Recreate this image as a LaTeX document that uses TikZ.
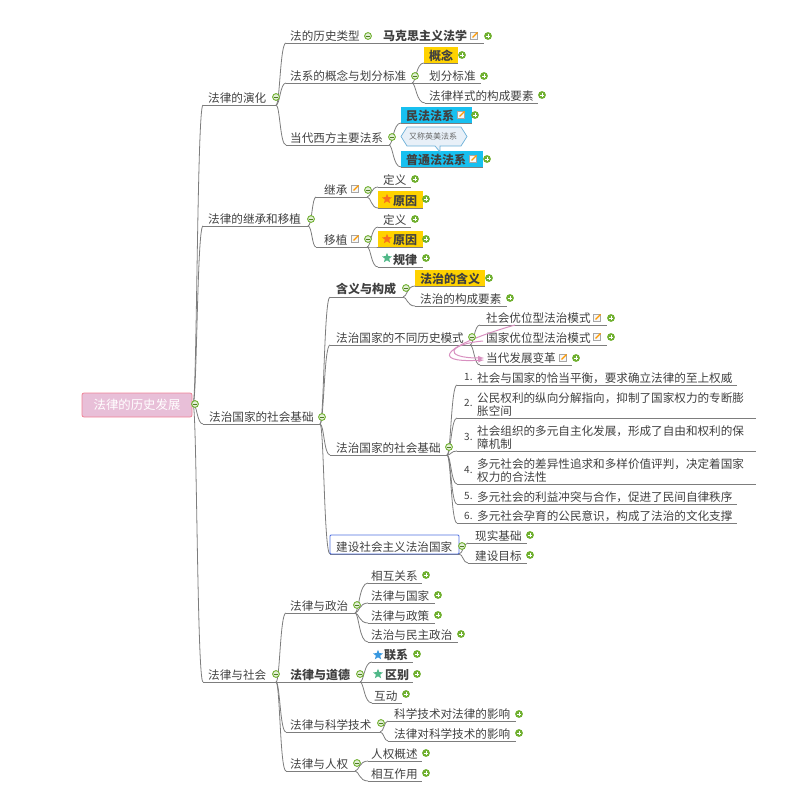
\documentclass[tikz,border=0pt]{standalone}
\usepackage{fontspec}
\setmainfont{Noto Sans CJK SC}
\usetikzlibrary{arrows}
\usetikzlibrary{shapes.geometric}
\definecolor{qtext}{RGB}{64,64,64}
\definecolor{qline}{RGB}{125,125,125}
\definecolor{qyellow}{RGB}{255,210,0}
\definecolor{qcyan}{RGB}{24,192,240}
\definecolor{qgreen}{RGB}{112,176,48}
\definecolor{qpink}{RGB}{216,144,192}
\definecolor{qorange}{RGB}{248,112,32}
\definecolor{qmint}{RGB}{80,184,136}
\definecolor{qblue}{RGB}{56,152,224}
\tikzset{
  topic/.style={text=qtext,inner sep=0pt,align=left,font=\fontsize{11.6}{13}\selectfont},
  btopic/.style={topic,font=\fontsize{12}{13}\bfseries\selectfont},
  branch/.style={draw=qline,line width=0.8pt},
  starmark/.style={star,star points=5,star point ratio=2.3,minimum size=10.5pt,inner sep=0pt}
}

\begin{document}
\begin{tikzpicture}[x=1pt,y=-1pt]%
\useasboundingbox (0,0) rectangle (800,800);

%highlighted boxes
\foreach \xa/\xb/\ya/\yb/\col in {424/458/47/63/qyellow,401/472/107/123/qcyan,401/483/151/167/qcyan,
  378/423/191/208/qyellow,378/423/231/247/qyellow,415/485/270/286/qyellow}{
  \fill[\col] (\xa,\ya) rectangle (\xb,\yb);
}

%root
\node[rectangle,rounded corners=2pt,line width=0.8pt,draw={rgb,255:red,240;green,130;blue,150},fill={rgb,255:red,232;green,191;blue,216},
  minimum width=110pt,minimum height=24pt,inner sep=0pt,text=white,font=\fontsize{12.4}{13}\selectfont] (root) at (137,405) {法律的历史发展};
\coordinate (root-b) at (193,404);

%topics: name/line start/line end/line y/text x/style/text
\foreach \n/\xa/\xb/\yy/\xt/\st/\txt in {
  evo/203/276/105/208/topic/法律的演化,
  trans/203/308/226/208/topic/法律的继承和移植,
  sbase/203/320/424/209/topic/法治国家的社会基础,
  soc/203/276/682/208/topic/法律与社会,
  hist/286/376/43/290/topic/法的历史类型,
  marx/376/484/43/383/btopic/马克思主义法学,
  syst/286/412/83/290/topic/法系的概念与划分标准,
  concept/424/458/63/429/btopic/概念,
  std/412/481/83/429/topic/划分标准,
  style/425/538/103/429/topic/法律样式的构成要素,
  west/286/389/145/290/topic/当代西方主要法系,
  civil/401/472/123/406/btopic/民法法系,
  common/401/483/167/406/btopic/普通法法系,
  inh/316/367/197/324/topic/继承,
  mig/316/367/247/324/topic/移植,
  defa/378/411/187/383/topic/定义,
  whya/378/423/208/393/btopic/原因,
  defb/378/411/227/383/topic/定义,
  whyb/378/423/247/393/btopic/原因,
  law/378/423/267/393/btopic/规律,
  mean/330/403/297/336/btopic/含义与构成,
  ruleof/415/485/286/420/btopic/法治的含义,
  parts/415/507/306/420/topic/法治的构成要素,
  modes/330/470/345/336/topic/法治国家的不同历史模式,
  socm/480/607/325/486/topic/社会优位型法治模式,
  stam/470/607/345/486/topic/国家优位型法治模式,
  curr/480/572/365/486/topic/当代发展变革,
  rbase/330/447/455/336/topic/法治国家的社会基础,
  ia/457/737/385/477/topic/社会与国家的恰当平衡，要求确立法律的至上权威,
  ib/457/756/418/477/topic/公民权利的纵向分解指向，抑制了国家权力的专断膨\\胀空间,
  ic/457/756/451/477/topic/社会组织的多元自主化发展，形成了自由和权利的保\\障机制,
  id/457/756/484/477/topic/多元社会的差异性追求和多样价值评判，决定着国家\\权力的合法性,
  ie/457/737/504/477/topic/多元社会的利益冲突与合作，促进了民间自律秩序,
  if/457/737/523/477/topic/多元社会孕育的公民意识，构成了法治的文化支撑,
  build/330/459/554/336/topic/建设社会主义法治国家,
  real/468/527/543/475/topic/现实基础,
  goal/468/527/563/475/topic/建设目标,
  pol/286/355/613/290/topic/法律与政治,
  mor/276/360/682/290/btopic/法律与道德,
  tech/286/380/732/290/topic/法律与科学技术,
  hum/286/355/771/290/topic/法律与人权,
  rel/368/422/583/371/topic/相互关系,
  stat/368/435/603/371/topic/法律与国家,
  poli/368/435/623/371/topic/法律与政策,
  dem/368/458/642/371/topic/法治与民主政治,
  link/372/413/662/384/btopic/联系,
  diff/360/413/682/385/btopic/区别,
  act/372/402/703/374/topic/互动,
  sta/388/516/721/394/topic/科学技术对法律的影响,
  stb/388/516/741/394/topic/法律对科学技术的影响,
  hra/368/422/761/371/topic/人权概述,
  hrb/368/422/781/371/topic/相互作用}{
  \coordinate (\n-a) at (\xa,\yy);
  \coordinate (\n-b) at (\xb,\yy);
  \draw[branch] (\n-a) -- (\n-b);
  \node[\st,anchor=south west] (\n) at (\xt,\yy-1.5) {\txt};
}

%branches
\foreach \p/\c in {root/evo,root/trans,root/sbase,root/soc,
  evo/hist,evo/syst,evo/west,hist/marx,syst/concept,syst/std,syst/style,west/civil,west/common,
  trans/inh,trans/mig,inh/defa,inh/whya,mig/defb,mig/whyb,mig/law,
  sbase/mean,sbase/modes,sbase/rbase,sbase/build,mean/ruleof,mean/parts,modes/socm,modes/stam,modes/curr,
  rbase/ia,rbase/ib,rbase/ic,rbase/id,rbase/ie,rbase/if,build/real,build/goal,
  soc/pol,soc/mor,soc/tech,soc/hum,pol/rel,pol/stat,pol/poli,pol/dem,mor/link,mor/diff,mor/act,
  tech/sta,tech/stb,hum/hra,hum/hrb}{
  \draw[branch] (\p-b) .. controls ([xshift=4pt]\p-b) and ([xshift=4pt]\p-b |- \c-a) .. (\c-a);
}

%list numbers
\foreach \i/\y in {1/377,2/403,3/437,4/470,5/496,6/516}{
  \node[topic,anchor=west,font=\fontsize{10}{12}\selectfont] (num\i) at (464,\y) {\i.};
}

%selected topic
\draw[draw={rgb,255:red,80;green,112;blue,224},line width=0.9pt,rounded corners=1pt] (330,535) rectangle (459,554);

%callout
\draw[draw={rgb,255:red,107;green,176;blue,216},fill={rgb,255:red,232;green,240;blue,248},line width=0.7pt]
  (401,136.5) -- (407,127) -- (461,127) -- (467,136.5) -- (461,146) -- (440,146) -- (440,152) -- (435,146) -- (407,146) -- cycle;
\node[topic,text=qtext!80,font=\fontsize{8}{9}\selectfont] (aka) at (433,136.5) {又称英美法系};

%relation arrows
\coordinate (rel-a) at (515,325);
\coordinate (rel-b) at (483,341);
\coordinate (rel-c) at (484,360);
\coordinate (rel-d) at (484,358);
\draw[-latex,draw=qpink,line width=1pt] (rel-a) .. controls (445,345) and (428,363) .. (rel-c);
\draw[-latex,draw=qpink,line width=1pt] (rel-b) .. controls (448,344) and (442,358) .. (rel-d);

%stars
\foreach \x/\y/\col [count=\i] in {387/199/qorange,387/239/qorange,387/258/qmint,378/655/qblue,378/674/qmint}{
  \node[starmark,fill=\col] (star\i) at (\x,\y) {};
}

%note icons
\foreach \x/\y in {474/36,461/115,473/159,355/189,355/239,597/318,597/337,563/358}{
  \draw[draw=black!35,fill=black!3,line width=0.5pt] (\x-3.5,\y-3.5) rectangle (\x+3.5,\y+3.5);
  \draw[orange!80!yellow,line width=1.2pt] (\x-1.5,\y+1.5) -- (\x+3.5,\y-3.5);
}

%expand marks
\foreach \x/\y in {488/36,462/55,484/76,542/95,475/115,487/159,415/179,426/199,415/219,426/239,426/258,
  489/278,510/298,611/318,611/337,576/358,530/535,530/555,426/575,438/595,438/615,461/634,417/654,417/674,
  406/694,519/714,519/733,426/753,426/773}{
  \fill[qgreen] (\x,\y) circle (3.9pt);
  \draw[white,line width=0.9pt] (\x-2,\y) -- (\x+2,\y) (\x,\y-2) -- (\x,\y+2);
}

%collapse marks
\foreach \x/\y in {195/404,276/97,311/219,322/417,276/674,368/36,415/76,392/137,368/190,368/239,406/288,472/337,
  449/447,462/546,357/605,360/674,381/723,357/763}{
  \draw[draw=qgreen,fill=qgreen!20,line width=0.9pt] (\x,\y) circle (3.4pt);
  \draw[qgreen!70!black,line width=0.8pt] (\x-2,\y) -- (\x+2,\y);
}

\end{tikzpicture}
\end{document}
